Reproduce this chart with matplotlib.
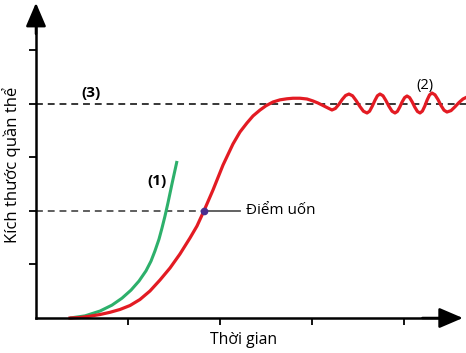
import matplotlib.pyplot as plt

plt.rcParams['font.family'] = ['Open Sans', 'DejaVu Sans']

# logistic growth (red), time vs population size
red_t = [0.37, 0.478, 0.587, 0.696, 0.804, 0.913, 1.022, 1.13, 1.239, 1.348, 1.457,
         1.565, 1.674, 1.75, 1.826, 1.924, 2.033, 2.141, 2.217,
         2.293, 2.359, 2.435, 2.5, 2.576, 2.652, 2.728, 2.793, 2.87, 2.946, 3.011, 3.065,
         3.109, 3.163, 3.217,
         3.254, 3.291, 3.328, 3.365, 3.402, 3.441, 3.48, 3.52, 3.559, 3.598,
         3.626, 3.654, 3.683, 3.711, 3.739, 3.772, 3.804, 3.837, 3.87, 3.902,
         3.928, 3.954, 3.98, 4.007, 4.033, 4.061, 4.089, 4.117, 4.146, 4.174,
         4.2, 4.226, 4.252, 4.278, 4.304, 4.337, 4.37, 4.402, 4.435, 4.467,
         4.511, 4.554, 4.598, 4.641, 4.674]
red_n = [0.0, 0.009, 0.034, 0.065, 0.106, 0.159, 0.233, 0.345, 0.504, 0.709, 0.933,
         1.194, 1.493, 1.716, 2.0, 2.388, 2.854, 3.246, 3.47,
         3.638, 3.77, 3.88, 3.96, 4.03, 4.07, 4.09, 4.1, 4.1, 4.086, 4.049, 4.011,
         3.974, 3.927, 3.881,
         3.909, 3.983, 4.076, 4.151, 4.179, 4.146, 4.056, 3.948, 3.858, 3.825,
         3.858, 3.948, 4.056, 4.146, 4.179, 4.146, 4.056, 3.948, 3.858, 3.825,
         3.854, 3.935, 4.032, 4.112, 4.142, 4.112, 4.032, 3.935, 3.854, 3.825,
         3.86, 3.953, 4.069, 4.162, 4.198, 4.164, 4.075, 3.966, 3.877, 3.843,
         3.869, 3.94, 4.021, 4.086, 4.114]

# exponential growth (green)
green_t = [0.37, 0.533, 0.696, 0.826, 0.935, 1.033, 1.12, 1.196, 1.25, 1.293, 1.337,
           1.37, 1.402, 1.435, 1.478, 1.533]
green_n = [0.0, 0.04, 0.13, 0.24, 0.37, 0.52, 0.69, 0.88, 1.06, 1.25, 1.47,
           1.68, 1.9, 2.15, 2.5, 2.93]

K = 4.0
inflect_t, inflect_n = 1.826, 2.0
xticks = [1, 2, 3, 4]
yticks = [1, 2, 3, 4, 5]

fig = plt.figure(figsize=(4.66, 3.53), dpi=100)
ax = fig.add_axes([0, 0, 1, 1])
ax.set_xlim(-0.391, 4.674)
ax.set_ylim(-0.653, 5.933)

for s in ['top', 'right']:
    ax.spines[s].set_visible(False)
ax.spines['left'].set_position(('data', 0))
ax.spines['bottom'].set_position(('data', 0))
ax.spines['left'].set_bounds(0, 5.5)
ax.spines['bottom'].set_bounds(0, 4.4)
ax.spines['left'].set_linewidth(1.8)
ax.spines['bottom'].set_linewidth(1.8)
ax.set_xticks(xticks)
ax.set_yticks(yticks)
ax.set_xticklabels([])
ax.set_yticklabels([])
ax.tick_params(axis='both', direction='out', length=5, width=1.3)

# arrow heads
head = '-|>,head_length=1.45,head_width=0.62'
ax.annotate('', xy=(0, 5.88), xytext=(0, 5.3),
            arrowprops=dict(arrowstyle=head, mutation_scale=10, color='black',
                            lw=1.8, shrinkA=0, shrinkB=0))
ax.annotate('', xy=(4.64, 0), xytext=(4.2, 0),
            arrowprops=dict(arrowstyle=head, mutation_scale=10, color='black',
                            lw=1.8, shrinkA=0, shrinkB=0))

# dashed reference lines
ax.plot([0, 4.674], [K, K], color='black', lw=1.1, dashes=(4.5, 3.2))
ax.plot([0, inflect_t], [inflect_n, inflect_n], color='#333333', lw=1.1, dashes=(4.5, 3.2))

ax.plot(green_t, green_n, color='#2db06b', lw=2.2, solid_capstyle='butt')
ax.plot(red_t, red_n, color='#e31b23', lw=2.3, solid_joinstyle='round')

ax.plot([inflect_t, 2.22], [inflect_n, inflect_n], color='#555555', lw=1.3)
ax.plot([inflect_t], [inflect_n], 'o', color='#4a2e8e', ms=4.5, zorder=5)

ax.text(2.283, 2.0, 'Điểm uốn', fontsize=11, va='center', ha='left')
ax.text(0.598, 4.2, '(3)', fontsize=11, fontweight='bold', ha='center', va='center')
ax.text(1.315, 2.556, '(1)', fontsize=11, fontweight='bold', ha='center', va='center')
ax.text(4.228, 4.33, '(2)', fontsize=10.5, ha='center', va='center')
ax.text(2.26, -0.41, 'Thời gian', fontsize=11.3, ha='center', va='center')
ax.text(-0.27, 2.86, 'Kích thước quần thể', fontsize=12, rotation=90,
        ha='center', va='center')

plt.savefig('out.png', dpi=100)
